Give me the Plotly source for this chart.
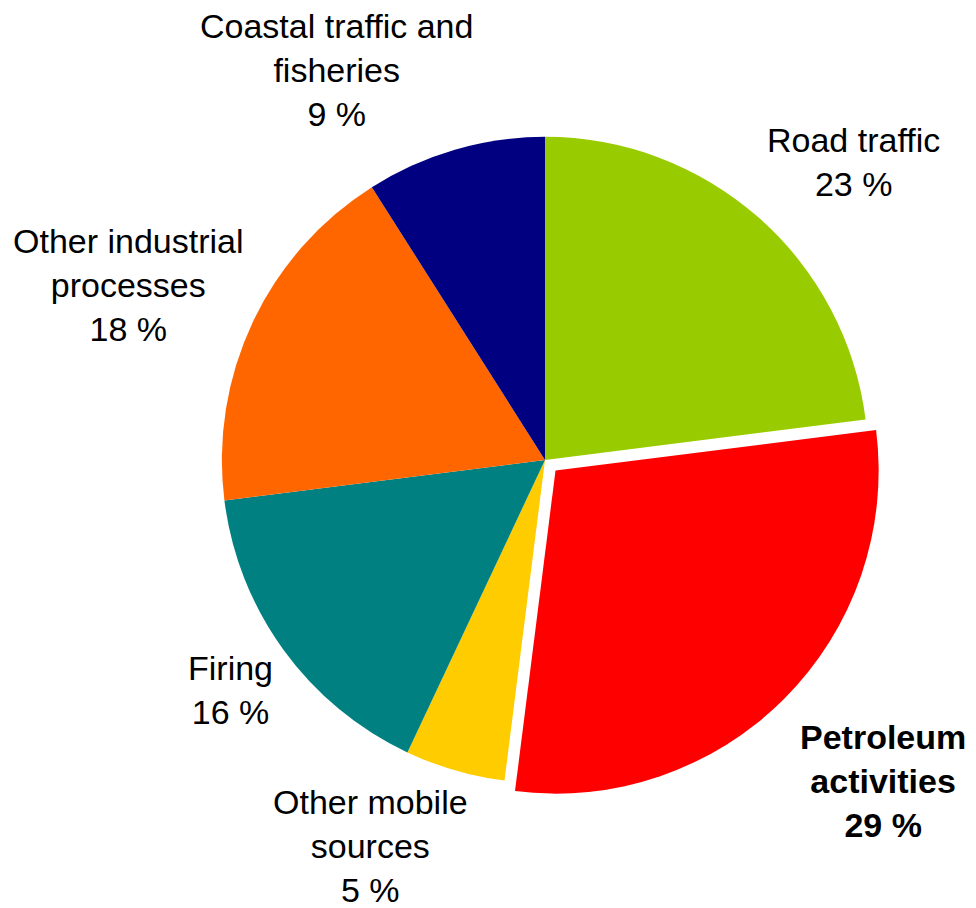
import plotly.graph_objects as go

labels = ["Road traffic", "Petroleum activities", "Other mobile sources", "Firing",
          "Other industrial processes", "Coastal traffic and fisheries"]
values = [23, 29, 5, 16, 18, 9]
colors = ["#99CC00", "#FF0000", "#FFCC00", "#008080", "#FF6600", "#000080"]
pulls = [0, 0.046, 0, 0, 0, 0]
label_text = ["Road traffic", "<b>Petroleum<br>activities</b>", "Other mobile<br>sources",
              "Firing", "Other industrial<br>processes", "Coastal traffic and<br>fisheries"]
label_pos = [(853, 161.5), (883, 781), (370, 846), (230, 690), (128, 285), (336, 70)]

W, H = 976, 908
OFF = 8  # page body margin
cx, cy, R = 545 - OFF, 460 - OFF, 338

fig = go.Figure(go.Pie(
    labels=labels, values=values, sort=False, direction="clockwise", rotation=0,
    marker=dict(colors=colors, line=dict(width=0)), pull=pulls,
    textinfo="none", hoverinfo="label+percent", showlegend=False,
    domain=dict(x=[(cx - R) / W, (cx + R) / W], y=[1 - (cy + R) / H, 1 - (cy - R) / H]),
))

for i, (t, v) in enumerate(zip(label_text, values)):
    pct = f"{v} %"
    if i == 1:
        pct = f"<b>{pct}</b>"
    x, y = label_pos[i]
    fig.add_annotation(text=f"{t}<br>{pct}", x=(x - OFF) / W, y=1 - (y - OFF) / H,
                       xref="paper", yref="paper",
                       xanchor="center", yanchor="middle", showarrow=False, align="center",
                       font=dict(family="Liberation Sans, Arial", size=34, color="black"))

fig.update_layout(width=W, height=H, margin=dict(l=0, r=0, t=0, b=0),
                  paper_bgcolor="white", plot_bgcolor="white")
fig.write_html("out.html")
